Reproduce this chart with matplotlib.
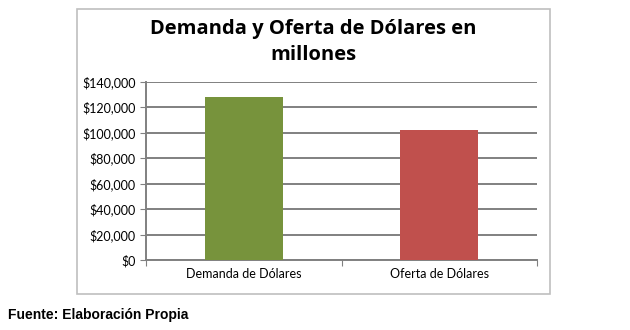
import matplotlib.pyplot as plt
from matplotlib.patches import Rectangle
from matplotlib.ticker import FuncFormatter

categories = ["Demanda de Dólares", "Oferta de Dólares"]
values = [128000, 102000]
colors = ["#77933C", "#C0504D"]
yticks = [0, 20000, 40000, 60000, 80000, 100000, 120000, 140000]

fig = plt.figure(figsize=(6.3, 3.3), dpi=100)

# chart frame
fig.patches.append(Rectangle((77 / 630, 1 - 294 / 330), 473 / 630, 285 / 330,
                             transform=fig.transFigure, fill=False,
                             edgecolor="#BFBFBF", linewidth=1.2))

ax = fig.add_axes([146 / 630, 1 - 260 / 330, 391 / 630, 178.3 / 330])
x = range(len(categories))
ax.bar(x, values, width=0.4, color=colors, zorder=3)
ax.set_xlim(-0.5, 1.5)
ax.set_ylim(0, 140000)
ax.set_yticks(yticks)
ax.yaxis.set_major_formatter(FuncFormatter(lambda v, p: f"${v:,.0f}"))
ax.grid(axis="y", color="#808080", linewidth=1.4, zorder=0)

ax.set_xticks([-0.5, 0.5, 1.5])
ax.set_xticklabels([])
ax.set_xticks(list(x), minor=True)
ax.set_xticklabels(categories, minor=True, fontsize=9, family="Lato")
ax.tick_params(axis="x", which="minor", length=0, pad=6)
ax.tick_params(axis="x", which="major", length=4, color="#808080")
ax.tick_params(axis="y", length=4, color="#808080", labelsize=9)
for lab in ax.get_yticklabels():
    lab.set_family("Lato")

for s in ["top", "right"]:
    ax.spines[s].set_visible(False)
for s in ["left", "bottom"]:
    ax.spines[s].set_color("#808080")
    ax.spines[s].set_linewidth(1.4)

fig.text(313 / 630, 1 - 42 / 330, "Demanda y Oferta de Dólares en\nmillones",
         ha="center", va="center", fontsize=14.5, fontweight="bold",
         family="Open Sans", linespacing=1.45)
fig.text(8 / 630, 1 - 315 / 330, "Fuente: Elaboración Propia",
         ha="left", va="center", fontsize=10, fontweight="bold",
         family="Liberation Sans")

fig.savefig("out.png", dpi=100)
